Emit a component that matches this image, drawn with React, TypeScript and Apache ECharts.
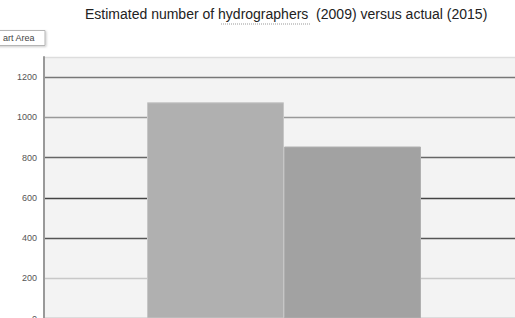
import React, { useEffect, useRef } from "react";
import * as echarts from "echarts";

const categories = ["Hydrographers"];
const seriesNames = ["Estimated (2009)", "Actual (2015)"];
const estimated2009 = [1075];
const actual2015 = [855];
const yTicks = [0, 200, 400, 600, 800, 1000, 1200];
const titleText = "Estimated number of hydrographers  (2009) versus actual (2015)";
const buttonText = "art Area";

export default function App() {
  const ref = useRef<HTMLDivElement>(null);
  useEffect(() => {
    if (!ref.current) return;
    const chart = echarts.init(ref.current, undefined, { renderer: "svg" });
    chart.setOption({
      animation: false,
      backgroundColor: "#ffffff",
      grid: { left: 44, right: 0, top: 57, bottom: 0, show: true, backgroundColor: "#f3f3f3", borderWidth: 0 },
      xAxis: {
        type: "category",
        data: categories,
        axisLine: { show: false },
        axisTick: { show: false },
        axisLabel: { show: false },
      },
      yAxis: {
        type: "value",
        min: 0,
        max: 1300,
        interval: 100,
        axisLine: { show: true, lineStyle: { color: "#999999", width: 2 } },
        axisTick: { show: false },
        axisLabel: {
          margin: 7,
          fontSize: 9,
          fontFamily: "Liberation Sans, Arial, sans-serif",
          color: "#555555",
          formatter: (v: number) => (yTicks.includes(v) ? String(v) : ""),
        },
        splitLine: {
          show: true,
          lineStyle: {
            width: 1.3,
            color: [
              "#999999", "rgba(0,0,0,0)",
              "#c8c8c8", "rgba(0,0,0,0)",
              "#555555", "rgba(0,0,0,0)",
              "#444444", "rgba(0,0,0,0)",
              "#666666", "rgba(0,0,0,0)",
              "#999999", "rgba(0,0,0,0)",
              "#777777", "#dddddd",
            ],
          },
        },
      },
      series: [
        {
          name: seriesNames[0],
          type: "bar",
          data: estimated2009,
          barWidth: 137,
          barGap: "0%",
          itemStyle: { color: "#b0b0b0", borderColor: "#c6c6c6", borderWidth: 1 },
        },
        {
          name: seriesNames[1],
          type: "bar",
          data: actual2015,
          barWidth: 137,
          barGap: "0%",
          itemStyle: { color: "#a2a2a2", borderColor: "#b0b0b0", borderWidth: 1 },
        },
      ],
      graphic: [
        {
          type: "text",
          left: 85,
          top: 7,
          style: {
            text: titleText,
            fontSize: 14,
            fontFamily: "Liberation Sans, Arial, sans-serif",
            fill: "#222222",
          },
        },
        {
          type: "line",
          shape: { x1: 221, y1: 24, x2: 310, y2: 24 },
          style: { stroke: "#999999", lineWidth: 1, lineDash: [1, 1] },
        },
        {
          type: "rect",
          shape: { x: -10, y: 30.5, width: 55, height: 15 },
          style: { fill: "#ffffff", stroke: "#b5b5b5", lineWidth: 1, shadowColor: "rgba(0,0,0,0.2)", shadowBlur: 2, shadowOffsetX: 1, shadowOffsetY: 1 },
        },
        {
          type: "text",
          x: 3,
          y: 38,
          style: {
            text: buttonText,
            fontSize: 9,
            fontFamily: "Liberation Sans, Arial, sans-serif",
            fill: "#444444",
            verticalAlign: "middle",
          },
        },
      ],
    });
    return () => chart.dispose();
  }, []);
  return (
    <div style={{ position: "fixed", left: 0, top: 0, width: 515, height: 318, overflow: "hidden", background: "#fff" }}>
      <div ref={ref} style={{ width: 524, height: 323 }} />
    </div>
  );
}
